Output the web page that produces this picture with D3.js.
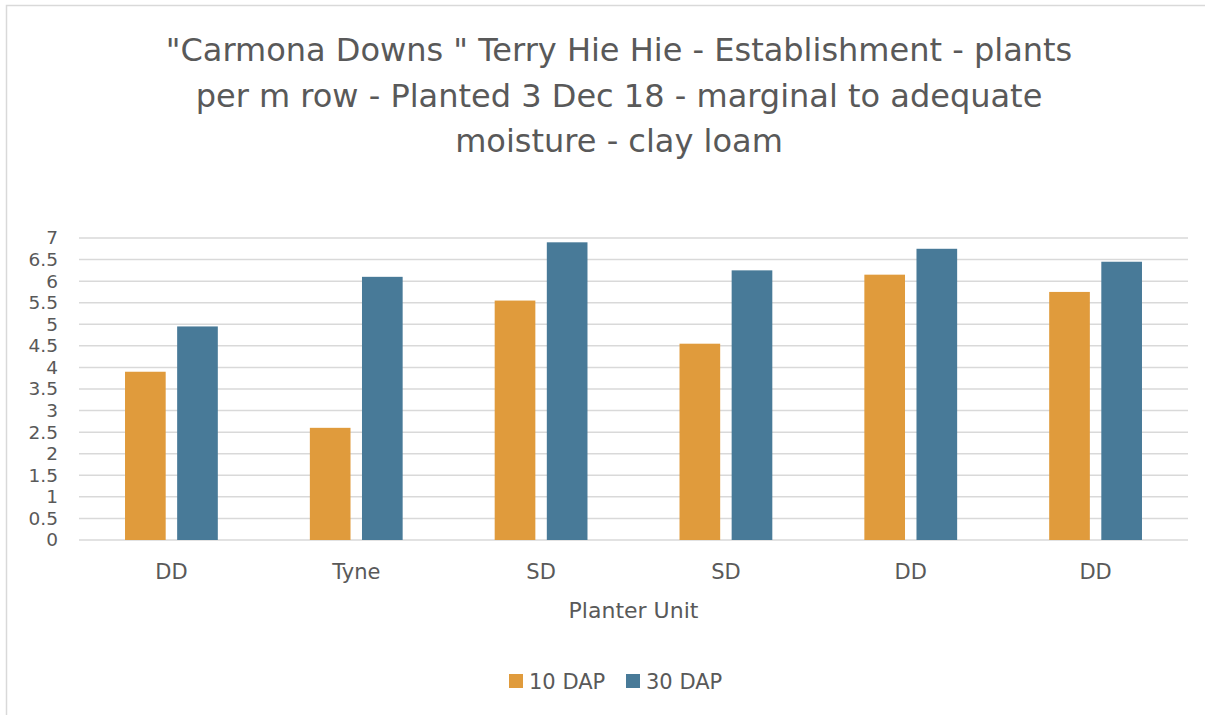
<!DOCTYPE html>
<html>
<head>
<meta charset="utf-8">
<script src="https://cdn.jsdelivr.net/npm/d3@7"></script>
<style>
  html, body { margin: 0; padding: 0; background: #fff; }
  svg { display: block; }
  text { font-family: "DejaVu Sans", Verdana, sans-serif; fill: #595959; }
</style>
</head>
<body>
<svg id="chart" width="1205" height="715"></svg>
<script>
// Establishment counts (plants per m row) by planter unit
const categories = ["DD", "Tyne", "SD", "SD", "DD", "DD"];
const seriesNames = ["10 DAP", "30 DAP"];
const dap10 = [3.9, 2.6, 5.55, 4.55, 6.15, 5.75];
const dap30 = [4.95, 6.1, 6.9, 6.25, 6.75, 6.45];
const yTicks = [0, 0.5, 1, 1.5, 2, 2.5, 3, 3.5, 4, 4.5, 5, 5.5, 6, 6.5, 7];
const titleLines = [
  "\"Carmona Downs \" Terry Hie Hie - Establishment - plants",
  "per m row - Planted 3 Dec 18 - marginal to adequate",
  "moisture - clay loam"
];
const colors = ["#E09B3C", "#487A98"];

const svg = d3.select("#chart");
const W = 1205, H = 715;
const plot = { left: 79, right: 1188, top: 238, bottom: 540 };

// chart frame
svg.append("path")
  .attr("d", `M6.5,${H} V5.5 H${W}`)
  .attr("fill", "none")
  .attr("stroke", "#D9D9D9")
  .attr("stroke-width", 1.5);

// title
const title = svg.append("text")
  .attr("text-anchor", "middle")
  .style("font-size", "32px");
titleLines.forEach((line, i) => {
  title.append("tspan")
    .attr("x", 619)
    .attr("y", 61 + i * 45.5)
    .text(line);
});

const x0 = d3.scaleBand()
  .domain(d3.range(categories.length))
  .range([plot.left, plot.right])
  .paddingInner(0)
  .paddingOuter(0);

const x1 = d3.scaleBand()
  .domain(seriesNames)
  .range([x0.bandwidth() / 2 - 46.4, x0.bandwidth() / 2 + 46.4])
  .paddingInner(0.22)
  .paddingOuter(0);

const y = d3.scaleLinear().domain([0, 7]).range([plot.bottom, plot.top]);

// gridlines
svg.append("g")
  .selectAll("line")
  .data(yTicks)
  .join("line")
  .attr("x1", plot.left)
  .attr("x2", plot.right)
  .attr("y1", d => y(d))
  .attr("y2", d => y(d))
  .attr("stroke", "#D9D9D9")
  .attr("stroke-width", 1.5);

// y axis labels
const yAxis = d3.axisLeft(y)
  .tickValues(yTicks)
  .tickFormat(d3.format("~g"))
  .tickSize(0)
  .tickPadding(0);
const yg = svg.append("g")
  .attr("transform", `translate(58,0)`)
  .call(yAxis);
yg.select(".domain").remove();
yg.selectAll("text")
  .style("font-size", "18.5px")
  .style("font-family", "\"DejaVu Sans\", Verdana, sans-serif")
  .attr("fill", "#595959");

// bars
const series = [dap10, dap30];
const groups = svg.append("g")
  .selectAll("g")
  .data(categories.map((c, i) => ({ i, vals: series.map((s, k) => ({ name: seriesNames[k], v: s[i], k })) })))
  .join("g")
  .attr("transform", d => `translate(${x0(d.i)},0)`);

groups.selectAll("rect")
  .data(d => d.vals)
  .join("rect")
  .attr("x", d => x1(d.name))
  .attr("width", x1.bandwidth())
  .attr("y", d => y(d.v))
  .attr("height", d => y(0) - y(d.v))
  .attr("fill", d => colors[d.k]);

// category axis
const xAxis = d3.axisBottom(x0)
  .tickFormat(i => categories[i])
  .tickSize(0)
  .tickPadding(0);
const xg = svg.append("g")
  .attr("transform", `translate(0,${plot.bottom})`)
  .call(xAxis);
xg.select(".domain").remove();
xg.selectAll("text")
  .attr("dy", null)
  .attr("y", 39)
  .style("font-size", "21px")
  .style("font-family", "\"DejaVu Sans\", Verdana, sans-serif")
  .attr("fill", "#595959");

// axis title
svg.append("text")
  .attr("x", (plot.left + plot.right) / 2)
  .attr("y", 618)
  .attr("text-anchor", "middle")
  .style("font-size", "22px")
  .text("Planter Unit");

// legend
const legendX = [509, 626];
const legend = svg.append("g")
  .selectAll("g")
  .data(seriesNames)
  .join("g")
  .attr("transform", (d, i) => `translate(${legendX[i]},674)`);
legend.append("rect")
  .attr("width", 14)
  .attr("height", 14)
  .attr("fill", (d, i) => colors[i]);
legend.append("text")
  .attr("x", 20)
  .attr("y", 15)
  .style("font-size", "21px")
  .text(d => d);
</script>
</body>
</html>
